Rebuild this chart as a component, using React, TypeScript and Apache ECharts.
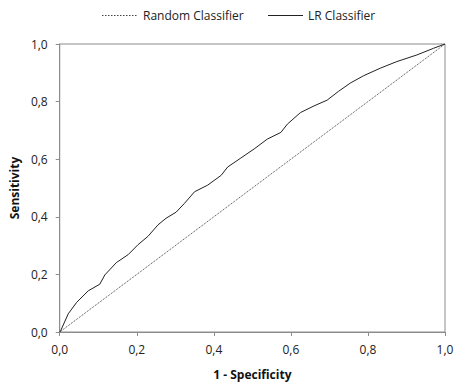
import React, { useEffect, useRef } from "react";
import * as echarts from "echarts";

const xTicks = [0, 0.2, 0.4, 0.6, 0.8, 1.0];
const randomX = [0, 1];
const randomY = [0, 1];
const lrX = [0, 0.003, 0.022, 0.044, 0.074, 0.104, 0.117, 0.147, 0.178, 0.203, 0.229, 0.255, 0.276, 0.302, 0.324, 0.35, 0.384, 0.419, 0.436, 0.47, 0.505, 0.539, 0.574, 0.591, 0.625, 0.66, 0.694, 0.724, 0.755, 0.789, 0.832, 0.875, 0.927, 0.97, 1.0];
const lrY = [0, 0.006, 0.063, 0.103, 0.143, 0.166, 0.198, 0.241, 0.269, 0.303, 0.332, 0.372, 0.395, 0.416, 0.447, 0.487, 0.51, 0.544, 0.573, 0.604, 0.636, 0.67, 0.693, 0.722, 0.762, 0.785, 0.805, 0.836, 0.865, 0.89, 0.916, 0.939, 0.962, 0.985, 1.0];
const legendNames = ["Random Classifier", "LR Classifier"];

const fmt = (v: number) => v.toFixed(1).replace(".", ",");
const FONT = "'Open Sans', 'Noto Sans', sans-serif";

export default function App() {
  const ref = useRef<HTMLDivElement>(null);
  useEffect(() => {
    const chart = echarts.init(ref.current!, undefined, { renderer: "svg" });
    chart.setOption({
      animation: false,
      textStyle: { fontFamily: FONT },
      legend: { show: false },
      graphic: [
        { type: "line", shape: { x1: 102, y1: 15.5, x2: 138, y2: 15.5 }, style: { stroke: "#444", lineWidth: 1, lineDash: [1.5, 1.5] } },
        { type: "text", x: 143, y: 15, style: { text: legendNames[0], font: `12px ${FONT}`, fill: "#222", textVerticalAlign: "middle", textAlign: "left" } },
        { type: "line", shape: { x1: 268, y1: 15.5, x2: 303, y2: 15.5 }, style: { stroke: "#222", lineWidth: 1 } },
        { type: "text", x: 308, y: 15, style: { text: legendNames[1], font: `12px ${FONT}`, fill: "#222", textVerticalAlign: "middle", textAlign: "left" } },
      ],
      grid: { left: 58, top: 44, width: 387, height: 291, show: true, borderColor: "#8c8c8c", borderWidth: 1 },
      xAxis: {
        type: "value",
        min: 0,
        max: 1,
        interval: 0.2,
        name: "1 - Specificity",
        nameLocation: "middle",
        nameGap: 36,
        nameTextStyle: { fontWeight: "bold", fontSize: 12, color: "#111", fontFamily: FONT },
        axisLine: { lineStyle: { color: "#8c8c8c" } },
        axisTick: { show: true, length: 4, lineStyle: { color: "#8c8c8c" } },
        axisLabel: { formatter: fmt, fontSize: 12, color: "#222", margin: 11 },
        splitLine: { show: false },
      },
      yAxis: {
        type: "value",
        min: 0,
        max: 1,
        interval: 0.2,
        name: "Sensitivity",
        nameLocation: "middle",
        nameGap: 38,
        nameTextStyle: { fontWeight: "bold", fontSize: 12, color: "#111", fontFamily: FONT },
        axisLine: { show: true, lineStyle: { color: "#8c8c8c" } },
        axisTick: { show: true, length: 4, lineStyle: { color: "#8c8c8c" } },
        axisLabel: { formatter: fmt, fontSize: 12, color: "#222", margin: 12 },
        splitLine: { show: false },
      },
      series: [
        {
          name: legendNames[0],
          type: "line",
          symbol: "none",
          data: randomX.map((x, i) => [x, randomY[i]]),
          lineStyle: { color: "#444", width: 1, type: "dotted" },
          itemStyle: { color: "#444" },
        },
        {
          name: legendNames[1],
          type: "line",
          symbol: "none",
          data: lrX.map((x, i) => [x, lrY[i]]),
          lineStyle: { color: "#222", width: 1 },
          itemStyle: { color: "#222" },
        },
      ],
    });
    return () => chart.dispose();
  }, []);
  return <div ref={ref} style={{ width: 457, height: 385, position: "absolute", left: 0, top: 0 }} />;
}
